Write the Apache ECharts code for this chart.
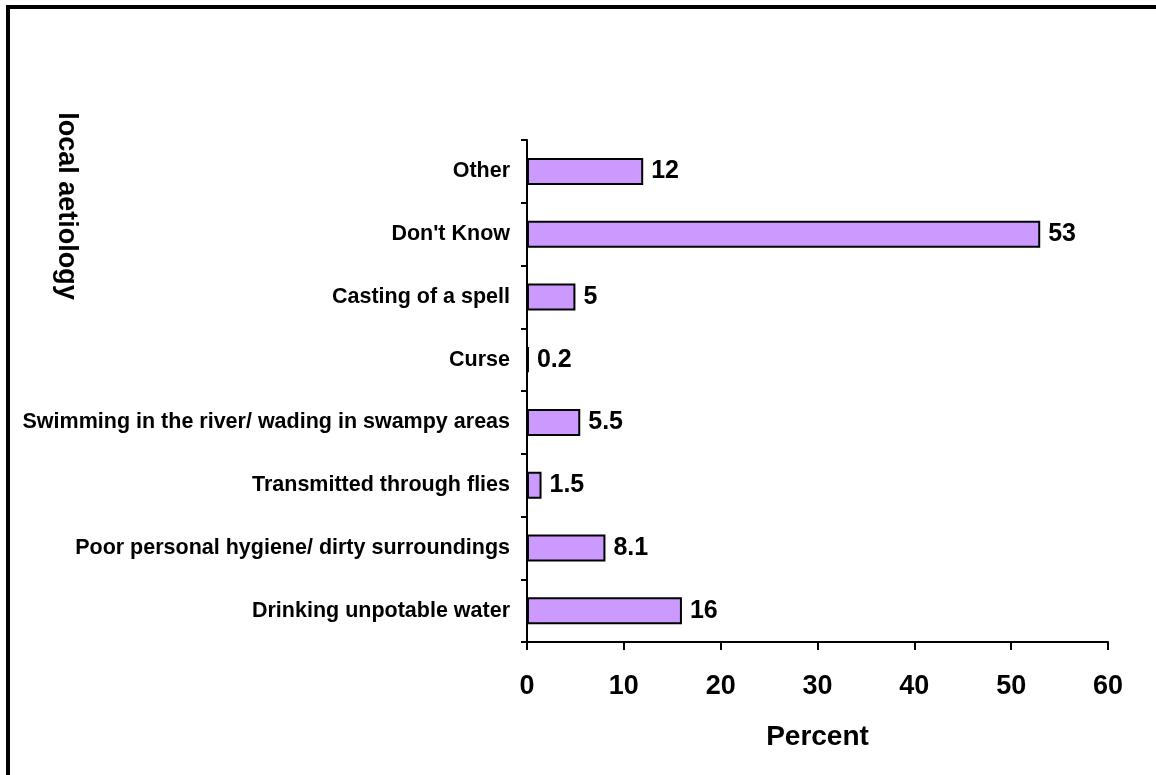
<!DOCTYPE html>
<html>
<head>
<meta charset="utf-8">
<script src="https://cdn.jsdelivr.net/npm/echarts@6/dist/echarts.min.js"></script>
<style>
html,body{margin:0;padding:0;background:#fff;}
#chart{width:1156px;height:775px;}
</style>
</head>
<body>
<div id="chart"></div>
<script>
// Categories listed bottom to top (ECharts category y-axis order)
const categories = [
  "Drinking unpotable water",
  "Poor personal hygiene/ dirty surroundings",
  "Transmitted through flies",
  "Swimming in the river/ wading in swampy areas",
  "Curse",
  "Casting of a spell",
  "Don't Know",
  "Other"
];
const percentValues = [16, 8.1, 1.5, 5.5, 0.2, 5, 53, 12];
const xAxisTitle = "Percent";
const yAxisTitle = "local aetiology";

const FONT = "'Liberation Sans', Arial, sans-serif";
const chart = echarts.init(document.getElementById('chart'), null, {renderer: 'canvas'});
chart.setOption({
  animation: false,
  backgroundColor: '#ffffff',
  grid: {left: 527, right: 48, top: 140, bottom: 133, containLabel: false},
  xAxis: {
    type: 'value',
    min: 0, max: 60, interval: 10,
    name: xAxisTitle,
    nameLocation: 'middle',
    nameGap: 81,
    nameTextStyle: {fontFamily: FONT, fontWeight: 'bold', fontSize: 28, color: '#000'},
    axisLine: {show: true, lineStyle: {color: '#000', width: 2}},
    axisTick: {show: true, length: 8, lineStyle: {color: '#000', width: 2}},
    axisLabel: {fontFamily: FONT, fontWeight: 'bold', fontSize: 27, color: '#000', margin: 31},
    splitLine: {show: false}
  },
  yAxis: {
    type: 'category',
    data: categories,
    axisLine: {show: true, lineStyle: {color: '#000', width: 2}},
    axisTick: {show: true, length: 6, alignWithLabel: false, lineStyle: {color: '#000', width: 2}},
    axisLabel: {fontFamily: FONT, fontWeight: 'bold', fontSize: 21.5, color: '#000', margin: 17},
    splitLine: {show: false}
  },
  series: [{
    type: 'bar',
    data: percentValues,
    barWidth: 27,
    itemStyle: {color: '#CC99FF', borderColor: '#000', borderWidth: 2},
    label: {
      show: true, position: 'right', distance: 8,
      fontFamily: FONT, fontWeight: 'bold', fontSize: 25, color: '#000'
    }
  }],
  graphic: [
    {type: 'line', shape: {x1: 6, y1: 7, x2: 1156, y2: 7}, style: {stroke: '#000', lineWidth: 4}},
    {type: 'line', shape: {x1: 8, y1: 5, x2: 8, y2: 775}, style: {stroke: '#000', lineWidth: 4}},
    {type: 'text', x: 66, y: 206, rotation: -Math.PI/2,
     style: {text: yAxisTitle, fontFamily: FONT, fontWeight: 'bold', fontSize: 27, fill: '#000', align: 'center', verticalAlign: 'middle'}}
  ]
});
</script>
</body>
</html>
